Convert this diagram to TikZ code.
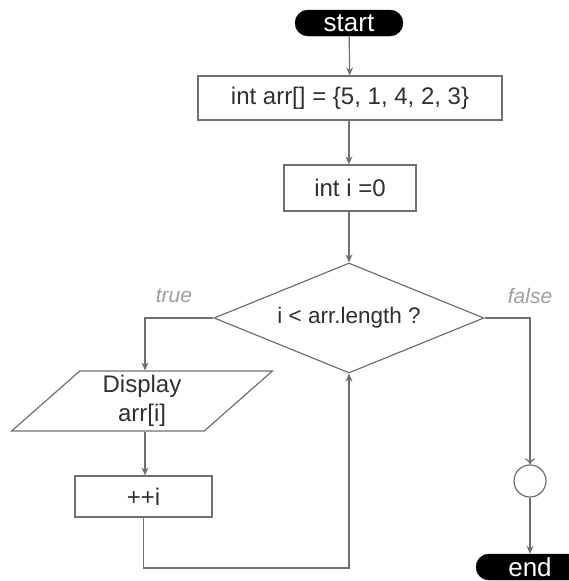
\documentclass[tikz,border=0pt]{standalone}
\usepackage{fontspec}
\setmainfont{Liberation Sans}
\usetikzlibrary{shapes.geometric,arrows.meta}
\definecolor{ln}{HTML}{707070}
\definecolor{tx}{HTML}{303030}
\definecolor{lb}{HTML}{A0A0A0}
\tikzset{
  terminal/.style={draw=black,fill=black,rounded corners=13pt,minimum width=108pt,minimum height=26pt,text=white,font=\fontsize{26}{26}\selectfont,inner sep=0pt},
  procbox/.style={draw=ln,line width=1.2pt,rectangle,text=tx,font=\fontsize{24}{26}\selectfont,inner sep=0pt},
  decision/.style={draw=ln,line width=1.2pt,diamond,aspect=2.45,minimum width=270pt,minimum height=110pt,text=tx,font=\fontsize{22.5}{24}\selectfont,inner sep=0pt},
  iobox/.style={draw=ln,line width=1.2pt,trapezium,trapezium left angle=50,trapezium right angle=130,minimum width=261pt,minimum height=60pt,text=tx,font=\fontsize{24}{29}\selectfont,align=center,inner sep=0pt,trapezium stretches=true},
  junction/.style={draw=ln,line width=1.2pt,circle,minimum size=32pt,inner sep=0pt},
  flow/.style={draw=ln,line width=1.2pt,-{Stealth[length=8pt,width=7pt]}},
  flowopen/.style={draw=ln,line width=1.2pt,-{To[length=6pt,width=10pt]}},
  branch/.style={text=lb,font=\itshape\fontsize{21}{21}\selectfont}
}
\begin{document}
\begin{tikzpicture}[x=1pt,y=-1pt]
\useasboundingbox (0,0) rectangle (569,581);
\clip (0,0) rectangle (569,581);
\node[terminal] (start) at (349,23) {start};
\node[procbox,minimum width=304pt,minimum height=44pt] (arr) at (350,98) {int arr[] = \{5, 1, 4, 2, 3\}};
\node[procbox,minimum width=132pt,minimum height=46pt] (ini) at (350,188) {int i =0};
\node[decision] (dec) at (349,318) {i < arr.length ?};
\node[iobox] (disp) at (142,401) {Display\\arr[i]};
\node[procbox,minimum width=137pt,minimum height=41pt] (inc) at (143.5,496.5) {++i};
\node[junction] (jn) at (530,481) {};
\node[terminal] (end) at (530,567) {end};
\coordinate (tl) at (145,318);
\coordinate (fr) at (530,318);
\coordinate (lb) at (143.5,568);
\coordinate (rb) at (349,568);
\node[branch] (tlab) at (174,296) {true};
\node[branch] (flab) at (530,296) {false};
\draw[flow] (start) -- (arr);
\draw[flow] (arr.south -| start) -- (ini.north -| start);
\draw[flow] (ini.south -| start) -- (dec.north);
\draw[flow] (dec.west) -- (tl) -- (disp.north -| tl);
\draw[flow] (disp.south -| tl) -- (inc.north -| tl);
\draw[flow] (inc.south) -- (lb) -- (rb) -- (dec.south);
\draw[flowopen] (dec.east) -- (fr) -- (jn.north);
\draw[flow] (jn.south) -- (end.north);
\end{tikzpicture}
\end{document}
